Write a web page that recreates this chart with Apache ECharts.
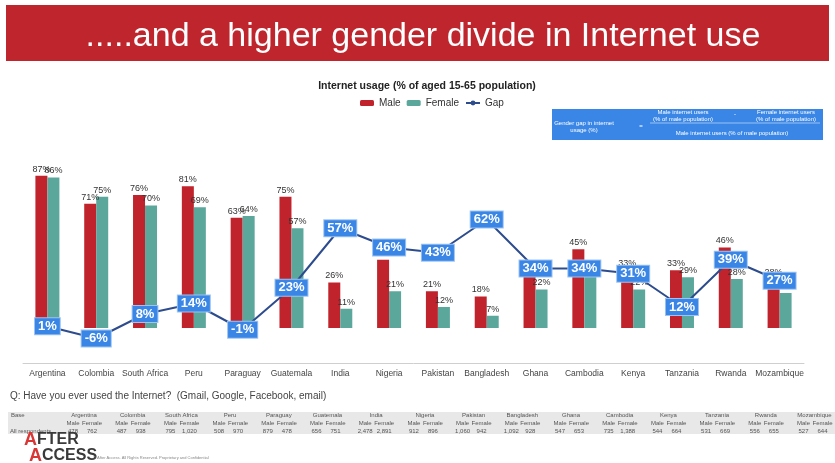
<!DOCTYPE html>
<html>
<head>
<meta charset="utf-8" />
<script type="text/javascript" src="https://cdn.jsdelivr.net/npm/echarts@6.0.0/dist/echarts.min.js"></script>
<title>Internet usage</title>
<style>
  html, body { margin: 0; padding: 0; background: #fff; }
  #main { width: 835px; height: 463px; }
</style>
</head>
<body>
<div id="main"></div>
<script type="text/javascript">
var countries = ['Argentina', 'Colombia', 'South Africa', 'Peru', 'Paraguay', 'Guatemala', 'India', 'Nigeria',
                 'Pakistan', 'Bangladesh', 'Ghana', 'Cambodia', 'Kenya', 'Tanzania', 'Rwanda', 'Mozambique'];
var male   = [87, 71, 76, 81, 63, 75, 26, 39, 21, 18, 33, 45, 33, 33, 46, 28];
var female = [86, 75, 70, 69, 64, 57, 11, 21, 12, 7, 22, 30, 22, 29, 28, 20];
var gap    = [1, -6, 8, 14, -1, 23, 57, 46, 43, 62, 34, 34, 31, 12, 39, 27];
// base sizes (all respondents)
var baseMale   = ['478', '487', '795', '508', '879', '656', '2,478', '912', '1,060', '1,092', '547', '735', '544', '531', '556', '527'];
var baseFemale = ['762', '938', '1,020', '970', '478', '751', '2,891', '896', '942', '928', '653', '1,388', '664', '669', '655', '644'];

var FONT = '"Liberation Sans", Arial, sans-serif';
var myChart = echarts.init(document.getElementById('main'));

// bottom table text
var tableEls = [
  { type: 'rect', shape: { x: 8, y: 412, width: 827, height: 22 }, style: { fill: '#e8e8e8' } },
  { type: 'text', x: 11, y: 415, style: { text: 'Base', font: '6px ' + FONT, fill: '#555', verticalAlign: 'middle' } },
  { type: 'text', x: 10, y: 431, style: { text: 'All respondents', font: '6px ' + FONT, fill: '#555', verticalAlign: 'middle' } }
];
for (var i = 0; i < countries.length; i++) {
  var x0 = 67 + 48.7 * i;
  tableEls.push({ type: 'text', x: x0 + 17, y: 415, style: { text: countries[i], font: '6px ' + FONT, fill: '#555', align: 'center', verticalAlign: 'middle' } });
  tableEls.push({ type: 'text', x: x0 + 6, y: 423, style: { text: 'Male', font: '6px ' + FONT, fill: '#555', align: 'center', verticalAlign: 'middle' } });
  tableEls.push({ type: 'text', x: x0 + 25, y: 423, style: { text: 'Female', font: '6px ' + FONT, fill: '#555', align: 'center', verticalAlign: 'middle' } });
  tableEls.push({ type: 'text', x: x0 + 6, y: 431, style: { text: baseMale[i], font: '6px ' + FONT, fill: '#555', align: 'center', verticalAlign: 'middle' } });
  tableEls.push({ type: 'text', x: x0 + 25, y: 431, style: { text: baseFemale[i], font: '6px ' + FONT, fill: '#555', align: 'center', verticalAlign: 'middle' } });
}

var boxText = function (t, x, y, align) {
  return { type: 'text', x: x, y: y, z: 11, style: { text: t, font: '6px ' + FONT, fill: '#fff', align: align || 'center', verticalAlign: 'middle' } };
};

var option = {
  textStyle: { fontFamily: FONT },
  title: {
    text: 'Internet usage (% of aged 15-65 population)',
    left: 422, textAlign: 'center', top: 76,
    textStyle: { fontSize: 10.5, fontWeight: 'bold', color: '#222' }
  },
  legend: {
    top: 93, left: 355,
    itemWidth: 14, itemHeight: 6, itemGap: 6,
    textStyle: { fontSize: 10, color: '#333' },
    data: ['Male', 'Female', 'Gap']
  },
  grid: { left: 23, right: 31, top: 153, bottom: 100, containLabel: false, outerBoundsMode: 'none' },
  xAxis: {
    type: 'category',
    data: countries,
    axisLine: { onZero: false, lineStyle: { color: '#cfcfcf', width: 1 } },
    axisTick: { show: false },
    axisLabel: { interval: 0, fontSize: 8.5, color: '#444', margin: 6 }
  },
  yAxis: {
    type: 'value', min: -20, max: 100, show: false,
    splitLine: { show: false }
  },
  series: [
    {
      name: 'Male', type: 'bar', data: male, barWidth: 12, barGap: '0%',
      itemStyle: { color: '#c0232b' },
      label: { show: true, position: 'top', distance: 2, formatter: '{c}%', fontSize: 9, color: '#333' }
    },
    {
      name: 'Female', type: 'bar', data: female, barWidth: 12,
      itemStyle: { color: '#5ba79c' },
      label: { show: true, position: 'top', distance: 2, formatter: '{c}%', fontSize: 9, color: '#333' }
    },
    {
      name: 'Gap', type: 'line', data: gap, z: 5,
      symbol: 'circle', symbolSize: 5,
      lineStyle: { color: '#2d4c8e', width: 2 },
      itemStyle: { color: '#2d4c8e' },
      label: {
        show: true, position: 'inside', formatter: '{c}%',
        fontSize: 13, fontWeight: 'bold', color: '#fff',
        backgroundColor: '#3a86e6', borderColor: '#9cc3f2', borderWidth: 1,
        padding: [2, 3, 1, 3]
      }
    }
  ],
  graphic: [
    { type: 'rect', shape: { x: 6, y: 5, width: 823, height: 56 }, style: { fill: '#bf252c' } },
    { type: 'text', x: 423, y: 37, style: { text: '.....and a higher gender divide in Internet use', font: '34px ' + FONT, fill: '#fff', align: 'center', verticalAlign: 'middle' } },
    // formula box
    { type: 'rect', z: 10, shape: { x: 552, y: 109, width: 271, height: 31 }, style: { fill: '#3a86e6' } },
    boxText('Gender gap in internet', 584, 123),
    boxText('usage (%)', 584, 130),
    boxText('=', 641, 126),
    boxText('Male internet users', 683, 112),
    boxText('(% of male population)', 683, 119),
    boxText('-', 735, 114),
    boxText('Female internet users', 786, 112),
    boxText('(% of male population)', 786, 119),
    { type: 'line', z: 11, shape: { x1: 650, y1: 123, x2: 820, y2: 123 }, style: { stroke: '#fff', lineWidth: 0.5 } },
    boxText('Male internet users (% of male population)', 732, 133),
    // question
    { type: 'text', x: 10, y: 396, style: { text: 'Q: Have you ever used the Internet?  (Gmail, Google, Facebook, email)', font: '10px ' + FONT, fill: '#444', verticalAlign: 'middle' } }
  ].concat(tableEls).concat([
    // logo
    { type: 'text', x: 24, y: 440, style: { rich: { a: { fontSize: 18, fontWeight: 'bold', fill: '#d93636', fontFamily: FONT }, b: { fontSize: 16, fontWeight: 'bold', fill: '#3a3a3a', fontFamily: FONT } }, text: '{a|A}{b|FTER}', verticalAlign: 'middle' } },
    { type: 'text', x: 29, y: 456, style: { rich: { a: { fontSize: 18, fontWeight: 'bold', fill: '#d93636', fontFamily: FONT }, b: { fontSize: 16, fontWeight: 'bold', fill: '#3a3a3a', fontFamily: FONT } }, text: '{a|A}{b|CCESS}', verticalAlign: 'middle' } },
    { type: 'text', x: 93, y: 458, style: { text: '\u00a9 After Access. All Rights Reserved. Proprietary and Confidential', font: '4px ' + FONT, fill: '#888', verticalAlign: 'middle' } }
  ])
};
myChart.setOption(option);
</script>
</body>
</html>
